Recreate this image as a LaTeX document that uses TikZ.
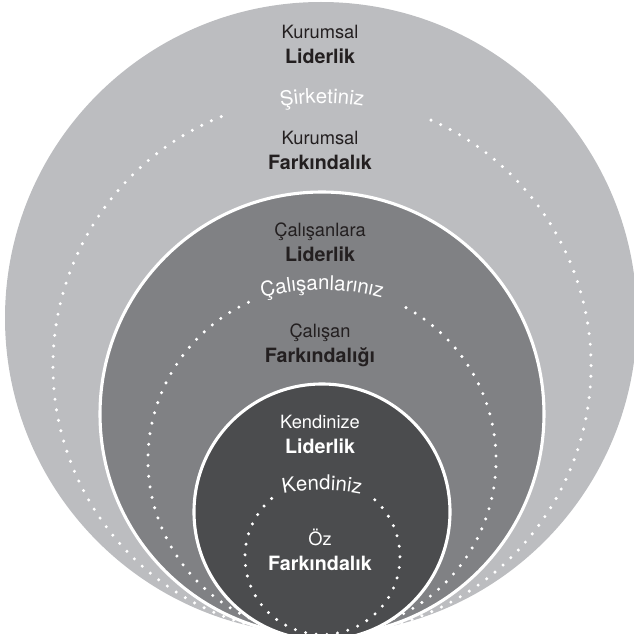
\documentclass[tikz,border=0pt]{standalone}
\usepackage{fontspec}
\setmainfont{TeX Gyre Heros}
\usetikzlibrary{decorations.text}
\definecolor{outergray}{HTML}{BCBDC0}
\definecolor{midgray}{HTML}{808184}
\definecolor{innergray}{HTML}{4B4C4E}
\definecolor{textdark}{HTML}{231F20}
\newcommand{\boldword}[1]{{\fontsize{14}{17.8}\selectfont\bfseries #1}}
\begin{document}
\begin{tikzpicture}[x=0.025cm, y=0.025cm,
  ring/.style={draw=white, line width=2.2pt},
  dots/.style={draw=white, line width=2.4pt, line cap=round, dash pattern=on 0pt off 7.6pt},
  pairtext/.style={align=center, font=\fontsize{13}{17.8}\selectfont},
  arctext/.style={decorate, decoration={text along path, text align=center,
    text={|\fontsize{14.5}{14.5}\selectfont\color{white}|#1}}}]
\useasboundingbox (0,0) rectangle (634,634);
\clip (0,0) rectangle (634,634);

\coordinate (outerc) at (321,316);
\coordinate (outerdc) at (322,268);
\coordinate (midc) at (322,220);
\coordinate (middc) at (322,174);
\coordinate (innerc) at (322,122);
\coordinate (innerdc) at (322.5,77);

\fill[outergray] (outerc) circle[radius=316];
\draw[dots] (outerdc) ++(112:269) arc[start angle=112, end angle=427, radius=269];
\path[arctext={Şirketiniz}] (322,291) ++(120:240) arc[start angle=120, end angle=60, radius=240];

\filldraw[midgray, ring] (midc) circle[radius=222];
\draw[dots] (middc) ++(115:174) arc[start angle=115, end angle=424, radius=174];
\path[arctext={Çalışanlarınız}] (322,109) ++(125:235) arc[start angle=125, end angle=55, radius=235];

\filldraw[innergray, ring] (innerc) circle[radius=128];
\draw[dots] (innerdc) ++(131:77.5) arc[start angle=131, end angle=410, radius=77.5];
\path[arctext={Kendiniz}] (322,-56) ++(130:200) arc[start angle=130, end angle=50, radius=200];

\node[pairtext, text=textdark] (kurumsallider) at (320,589.5) {Kurumsal\\\boldword{Liderlik}};
\node[pairtext, text=textdark] (kurumsalfark) at (320,483.5) {Kurumsal\\\boldword{Farkındalık}};
\node[pairtext, text=textdark] (calisanlider) at (320,391.5) {Çalışanlara\\\boldword{Liderlik}};
\node[pairtext, text=textdark] (calisanfark) at (320,288.5) {Çalışan\\\boldword{Farkındalığı}};
\node[pairtext, text=white] (kendilider) at (320,199.5) {Kendinize\\\boldword{Liderlik}};
\node[pairtext, text=white] (ozfark) at (320,84.5) {Öz\\\boldword{Farkındalık}};
\end{tikzpicture}
\end{document}
